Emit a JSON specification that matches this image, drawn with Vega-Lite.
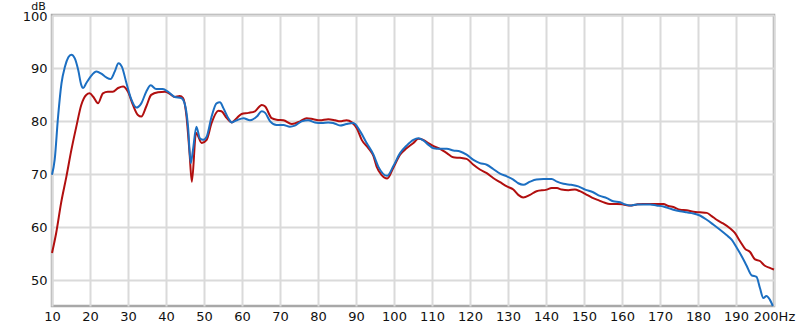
{
  "$schema": "https://vega.github.io/schema/vega-lite/v6.json",
  "width": 722,
  "height": 291,
  "autosize": {"type": "none"},
  "padding": {"left": 52, "top": 15, "right": 26, "bottom": 22},
  "background": "white",
  "config": {
    "view": {"stroke": "#a8a8a8", "strokeWidth": 2.5},
    "font": "DejaVu Sans",
    "axis": {"labelFont": "DejaVu Sans", "labelFontSize": 13, "labelColor": "#111", "gridColor": "#dadada", "gridWidth": 2, "domain": false, "ticks": false}
  },
  "datasets": {
    "blue": [
      {"f":10,"db":69.8},{"f":10.7,"db":72.6},{"f":11.6,"db":80.8},{"f":12.5,"db":87.1},{"f":13.4,"db":90.2},{"f":14.3,"db":92.0},{"f":15.1,"db":92.5},{"f":16.0,"db":91.8},{"f":16.9,"db":89.6},{"f":17.7,"db":86.8},{"f":18.2,"db":86.2},{"f":19.0,"db":87.1},{"f":20.3,"db":88.5},{"f":21.7,"db":89.3},{"f":23.0,"db":88.9},{"f":24.3,"db":88.2},{"f":25.4,"db":87.9},{"f":26.5,"db":89.3},{"f":27.5,"db":90.9},{"f":28.4,"db":90.2},{"f":29.6,"db":87.1},{"f":30.9,"db":84.0},{"f":32.2,"db":82.5},{"f":33.5,"db":83.3},{"f":34.8,"db":85.5},{"f":36.0,"db":86.7},{"f":37.4,"db":86.0},{"f":39.2,"db":86.0},{"f":40.5,"db":85.5},{"f":42.3,"db":84.5},{"f":44.0,"db":84.3},{"f":44.9,"db":83.3},{"f":45.8,"db":78.9},{"f":46.5,"db":72.0},{"f":47.1,"db":74.5},{"f":48.0,"db":78.9},{"f":48.9,"db":76.7},{"f":49.8,"db":76.4},{"f":50.7,"db":77.0},{"f":52.0,"db":80.8},{"f":53.3,"db":83.3},{"f":54.2,"db":83.5},{"f":55.1,"db":82.4},{"f":56.4,"db":80.5},{"f":57.3,"db":79.7},{"f":58.6,"db":80.1},{"f":60.4,"db":80.5},{"f":62.1,"db":80.1},{"f":63.9,"db":80.8},{"f":65.2,"db":81.8},{"f":66.1,"db":81.5},{"f":67.4,"db":79.9},{"f":69.1,"db":79.2},{"f":70.9,"db":79.2},{"f":72.6,"db":78.9},{"f":73.9,"db":79.1},{"f":75.7,"db":79.9},{"f":77.4,"db":80.1},{"f":79.2,"db":79.7},{"f":81.0,"db":79.6},{"f":82.7,"db":79.7},{"f":84.0,"db":79.6},{"f":85.8,"db":79.1},{"f":87.5,"db":79.4},{"f":89.3,"db":79.6},{"f":91.1,"db":78.0},{"f":92.8,"db":75.8},{"f":94.6,"db":73.6},{"f":95.9,"db":71.3},{"f":98.2,"db":69.6},{"f":99.8,"db":71.4},{"f":101.6,"db":73.9},{"f":103.3,"db":75.3},{"f":105.1,"db":76.4},{"f":106.4,"db":76.7},{"f":107.7,"db":76.3},{"f":109.0,"db":75.5},{"f":110.4,"db":74.8},{"f":112.1,"db":74.7},{"f":113.9,"db":74.7},{"f":115.6,"db":74.4},{"f":117.4,"db":74.2},{"f":119.1,"db":73.6},{"f":120.9,"db":72.6},{"f":122.6,"db":72.0},{"f":124.4,"db":71.7},{"f":126.1,"db":70.9},{"f":127.9,"db":70.0},{"f":129.7,"db":69.5},{"f":131.4,"db":68.9},{"f":132.7,"db":68.2},{"f":134.0,"db":67.9},{"f":135.8,"db":68.5},{"f":137.5,"db":68.9},{"f":139.3,"db":69.0},{"f":141.5,"db":69.0},{"f":142.9,"db":68.5},{"f":144.6,"db":68.1},{"f":146.6,"db":67.9},{"f":148.5,"db":67.6},{"f":150.3,"db":67.0},{"f":152.4,"db":66.5},{"f":154.2,"db":65.8},{"f":156.0,"db":65.4},{"f":157.7,"db":64.8},{"f":159.5,"db":64.6},{"f":160.8,"db":64.2},{"f":162.1,"db":64.0},{"f":163.9,"db":64.2},{"f":165.6,"db":64.2},{"f":167.4,"db":64.2},{"f":169.1,"db":64.0},{"f":170.9,"db":63.8},{"f":172.2,"db":63.5},{"f":173.5,"db":63.2},{"f":175.3,"db":62.9},{"f":177.0,"db":62.7},{"f":178.8,"db":62.5},{"f":180.5,"db":62.1},{"f":182.3,"db":61.3},{"f":184.0,"db":60.4},{"f":185.8,"db":59.4},{"f":187.5,"db":58.4},{"f":188.9,"db":57.5},{"f":190.2,"db":56.0},{"f":191.5,"db":54.4},{"f":192.8,"db":52.6},{"f":194.1,"db":50.8},{"f":195.4,"db":50.5},{"f":196.3,"db":48.4},{"f":197.2,"db":46.5},{"f":198.0,"db":46.9},{"f":198.9,"db":46.2},{"f":199.7,"db":45.0}
    ],
    "red": [
      {"f":10,"db":55.0},{"f":11.1,"db":58.8},{"f":12.4,"db":64.5},{"f":13.8,"db":69.5},{"f":15.1,"db":74.5},{"f":16.4,"db":78.9},{"f":17.7,"db":83.0},{"f":19.0,"db":84.9},{"f":19.9,"db":85.2},{"f":20.9,"db":84.5},{"f":22.1,"db":83.3},{"f":23.4,"db":85.2},{"f":24.7,"db":85.5},{"f":26.0,"db":85.5},{"f":27.4,"db":86.2},{"f":28.7,"db":86.5},{"f":30.0,"db":85.5},{"f":31.3,"db":83.0},{"f":32.6,"db":81.1},{"f":33.5,"db":80.8},{"f":34.8,"db":82.7},{"f":36.1,"db":84.9},{"f":37.9,"db":85.4},{"f":39.7,"db":85.5},{"f":41.0,"db":85.1},{"f":42.3,"db":84.5},{"f":43.6,"db":84.7},{"f":44.5,"db":84.3},{"f":45.4,"db":80.8},{"f":46.2,"db":73.9},{"f":46.8,"db":68.5},{"f":47.9,"db":77.7},{"f":49.4,"db":75.8},{"f":50.7,"db":76.4},{"f":52.0,"db":79.6},{"f":53.8,"db":81.9},{"f":54.6,"db":81.8},{"f":56.0,"db":80.5},{"f":57.3,"db":79.7},{"f":58.6,"db":80.5},{"f":59.9,"db":81.3},{"f":61.7,"db":81.5},{"f":63.4,"db":81.8},{"f":65.2,"db":83.0},{"f":66.1,"db":82.7},{"f":67.8,"db":80.5},{"f":69.1,"db":80.2},{"f":70.9,"db":80.1},{"f":73.1,"db":79.4},{"f":75.3,"db":79.9},{"f":77.0,"db":80.5},{"f":78.8,"db":80.3},{"f":80.5,"db":80.1},{"f":82.7,"db":80.3},{"f":84.5,"db":80.1},{"f":85.8,"db":79.9},{"f":87.5,"db":80.1},{"f":88.9,"db":79.7},{"f":90.2,"db":78.6},{"f":91.5,"db":76.4},{"f":93.3,"db":74.8},{"f":94.6,"db":73.3},{"f":95.4,"db":71.4},{"f":96.7,"db":69.8},{"f":98.2,"db":69.1},{"f":99.8,"db":71.1},{"f":101.6,"db":73.6},{"f":103.3,"db":74.8},{"f":105.1,"db":75.8},{"f":106.4,"db":76.6},{"f":107.7,"db":76.4},{"f":109.0,"db":75.8},{"f":110.4,"db":75.2},{"f":112.1,"db":74.7},{"f":113.9,"db":73.9},{"f":115.6,"db":73.1},{"f":117.4,"db":73.0},{"f":119.1,"db":72.8},{"f":120.9,"db":71.7},{"f":122.6,"db":70.8},{"f":124.4,"db":70.1},{"f":126.1,"db":69.2},{"f":127.9,"db":68.4},{"f":129.7,"db":67.6},{"f":131.4,"db":67.0},{"f":132.7,"db":66.0},{"f":134.0,"db":65.5},{"f":135.8,"db":66.0},{"f":137.5,"db":66.7},{"f":140.2,"db":67.0},{"f":141.5,"db":67.3},{"f":142.9,"db":67.3},{"f":144.1,"db":67.0},{"f":145.9,"db":66.9},{"f":147.6,"db":67.0},{"f":148.9,"db":66.7},{"f":150.3,"db":66.2},{"f":152.1,"db":65.5},{"f":153.8,"db":65.0},{"f":155.5,"db":64.5},{"f":156.8,"db":64.3},{"f":158.6,"db":64.3},{"f":160.3,"db":64.2},{"f":162.1,"db":64.0},{"f":163.9,"db":64.2},{"f":165.6,"db":64.3},{"f":167.4,"db":64.3},{"f":169.1,"db":64.3},{"f":170.9,"db":64.3},{"f":172.2,"db":63.9},{"f":173.5,"db":63.7},{"f":175.3,"db":63.2},{"f":177.0,"db":63.1},{"f":178.8,"db":62.8},{"f":180.5,"db":62.7},{"f":182.3,"db":62.6},{"f":183.6,"db":62.0},{"f":184.9,"db":61.3},{"f":186.6,"db":60.6},{"f":188.4,"db":59.7},{"f":189.7,"db":58.8},{"f":191.1,"db":57.2},{"f":192.4,"db":55.8},{"f":193.7,"db":55.2},{"f":195.0,"db":53.8},{"f":196.3,"db":53.5},{"f":197.6,"db":52.6},{"f":198.9,"db":52.2},{"f":200,"db":51.9}
    ]
  },
  "encoding": {
    "x": {"field": "f", "type": "quantitative", "scale": {"domain": [10, 200], "nice": false, "zero": false},
      "axis": {"title": null, "values": [10,20,30,40,50,60,70,80,90,100,110,120,130,140,150,160,170,180,190,200], "labelPadding": 4, "labelFlush": false, "labelExpr": "datum.value == 200 ? '200Hz' : datum.label", "labelOverlap": false}},
    "y": {"field": "db", "type": "quantitative", "scale": {"domain": [45, 100], "nice": false, "zero": false},
      "axis": {"title": "dB", "values": [50,60,70,80,90,100], "labelPadding": 5, "labelOffset": 1, "labelFlush": false, "titleAngle": 0, "titleX": -14, "titleY": -6, "titleAlign": "center", "titleBaseline": "alphabetic", "titleFontWeight": "normal", "titleFontSize": 11, "titleColor": "#111"}}
  },
  "layer": [
    {"data": {"name": "red"}, "mark": {"type": "line", "interpolate": "monotone", "color": "#b10f0f", "strokeWidth": 2}},
    {"data": {"name": "blue"}, "mark": {"type": "line", "interpolate": "monotone", "color": "#1c6fc2", "strokeWidth": 2}}
  ]
}
